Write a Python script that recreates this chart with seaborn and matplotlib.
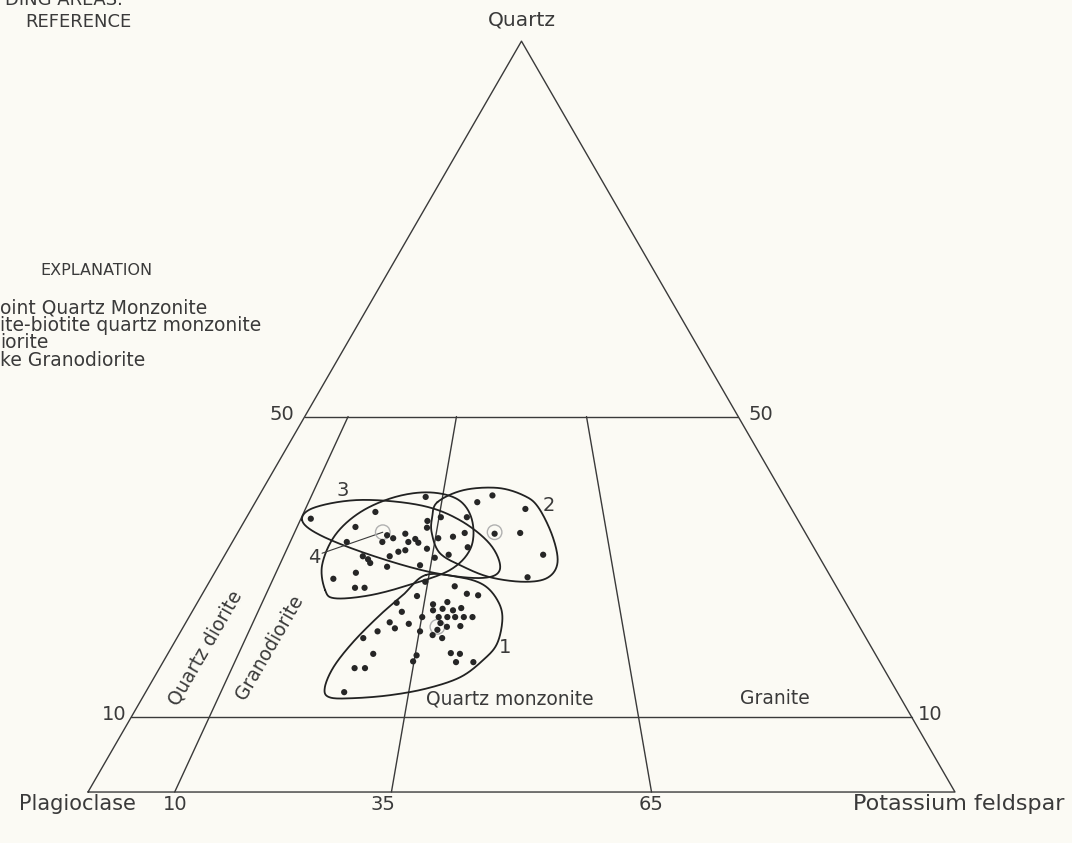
import numpy as np
import pandas as pd
import seaborn as sns
import matplotlib.pyplot as plt

# modal compositions (percent quartz, percent potassium feldspar)
dot_quartz = [39.3, 39.5, 38.6, 37.7, 36.4, 37.3, 36.1, 36.6, 36.6, 35.3, 35.2, 34.2, 33.8, 34.4,
              34.4, 34.5, 34.5, 33.3, 33.3, 33.3, 33.7, 33.2, 32.4, 33.8, 34.0, 32.6, 32.2, 32.0,
              31.4, 31.4, 31.0, 30.5, 30.0, 30.2, 31.2, 31.6, 31.6, 29.2, 28.4, 28.6, 27.2, 27.2,
              26.1, 27.4, 26.4, 26.2, 28.0, 25.2, 25.0, 25.3, 24.2, 24.4, 24.2, 24.5, 24.0, 23.3,
              23.3, 23.3, 23.3, 23.3, 23.3, 22.6, 22.4, 21.8, 22.5, 22.0, 22.1, 21.6, 20.9, 20.5,
              21.4, 21.4, 20.5, 18.4, 18.2, 17.4, 18.5, 18.4, 17.3, 17.3, 16.5, 16.5, 13.3]
dot_kspar = [19.3, 26.9, 25.6, 31.6, 7.5, 14.5, 21.1, 22.4, 25.4, 13.2, 21.5, 17.4, 18.3, 19.4,
             29.7, 32.6, 26.2, 13.2, 17.3, 20.3, 20.9, 21.5, 22.9, 23.5, 25.1, 27.5, 20.5, 19.8,
             19.1, 16.0, 16.8, 17.3, 19.5, 23.2, 24.4, 25.8, 36.7, 16.3, 14.1, 36.4, 17.2, 18.3,
             24.9, 28.6, 30.5, 31.9, 24.9, 23.0, 27.3, 28.8, 27.7, 28.7, 30.0, 30.8, 24.2, 28.8,
             29.8, 30.7, 31.7, 32.7, 26.9, 23.5, 25.8, 24.5, 29.4, 30.4, 31.9, 29.5, 29.3, 30.6,
             27.6, 22.7, 21.5, 23.7, 28.8, 28.8, 32.6, 33.7, 33.8, 35.8, 22.5, 23.7, 22.9]

# mean compositions of the rock units
mean_quartz = [22.0, 34.6, 34.6]
mean_kspar = [29.3, 29.6, 16.7]

# outlines of the four units
field1_quartz = [28.9, 28.6, 27.6, 25.6, 23.2, 19.8, 17.6, 15.3, 13.8, 12.9, 12.5, 12.6, 13.8, 16.6, 20.0, 23.6, 26.2]
field1_kspar = [24.5, 28.6, 31.8, 34.4, 36.2, 37.3, 36.8, 35.3, 32.2, 28.4, 24.4, 21.6, 20.4, 20.0, 20.6, 21.9, 23.2]
field2_quartz = [38.6, 40.2, 40.5, 39.5, 37.9, 34.0, 30.5, 28.5, 28.0, 28.6, 30.0, 31.8, 34.5, 36.6]
field2_kspar = [21.0, 23.2, 27.0, 30.5, 33.0, 36.6, 38.9, 38.7, 36.2, 32.1, 28.3, 24.7, 22.4, 21.4]
field3_quartz = [36.2, 37.9, 38.9, 38.2, 36.2, 32.9, 29.6, 28.5, 29.3, 31.6, 34.2]
field3_kspar = [6.6, 7.2, 12.0, 19.2, 24.8, 30.0, 32.7, 31.0, 24.8, 16.7, 9.7]
field4_quartz = [26.9, 30.2, 34.2, 37.3, 39.3, 39.9, 38.9, 36.2, 32.5, 29.6, 27.6, 26.2, 25.8]
field4_kspar = [13.9, 11.9, 11.4, 12.8, 15.8, 19.5, 23.3, 26.2, 27.9, 27.0, 23.3, 19.4, 15.6]

field_numbers = ["1", "2", "3", "4"]
number_quartz = [19.2, 38.2, 40.2, 31.3]
number_kspar = [38.5, 34.0, 9.3, 10.4]

ratio_lines = [10, 35, 65]  # K-feldspar / total feldspar, percent
quartz_lines = [10, 50]

explanation = ["oint Quartz Monzonite", "ite-biotite quartz monzonite", "iorite", "ke Granodiorite"]

INK = "#3a3a3a"
BG = "#fbfaf4"


def to_xy(q, k):
    q = np.asarray(q, dtype=float)
    k = np.asarray(k, dtype=float)
    return k + q / 2, q * np.sqrt(3) / 2


def smooth_closed(xs, ys, n=24):
    pts = np.column_stack([xs, ys])
    m = len(pts)
    t = np.linspace(0, 1, n, endpoint=False)[:, None]
    segs = []
    for i in range(m):
        p0, p1, p2, p3 = pts[i - 1], pts[i], pts[(i + 1) % m], pts[(i + 2) % m]
        segs.append(0.5 * (2 * p1 + (-p0 + p2) * t + (2 * p0 - 5 * p1 + 4 * p2 - p3) * t ** 2
                           + (-p0 + 3 * p1 - 3 * p2 + p3) * t ** 3))
    segs.append(segs[0][:1])
    return np.vstack(segs)


sns.set_style("white")
plt.rcParams["font.family"] = ["DejaVu Sans"]

fig = plt.figure(figsize=(10.72, 8.43), dpi=100, facecolor=BG)
ax = fig.add_axes([0, 0, 1, 1])
ax.set_facecolor(BG)
ax.set_xlim(-10.15, 113.5)
ax.set_ylim(-5.88, 91.35)
ax.axis("off")

# triangle frame
fx, fy = to_xy([0, 0, 100, 0], [0, 100, 0, 0])
ax.plot(fx, fy, color=INK, lw=1.0)
for q in quartz_lines:
    lx, ly = to_xy([q, q], [0, 100 - q])
    ax.plot(lx, ly, color=INK, lw=1.0)
for r in ratio_lines:
    lx, ly = to_xy([0, 50], [r, r * 0.5])
    ax.plot(lx, ly, color=INK, lw=1.0)

# unit outlines
for fq, fk in [(field1_quartz, field1_kspar), (field2_quartz, field2_kspar),
               (field3_quartz, field3_kspar), (field4_quartz, field4_kspar)]:
    ox, oy = to_xy(fq, fk)
    curve = smooth_closed(ox, oy)
    sns.lineplot(x=curve[:, 0], y=curve[:, 1], sort=False, estimator=None,
                 color="#222222", lw=1.3, ax=ax)

# samples
dx, dy = to_xy(dot_quartz, dot_kspar)
samples = pd.DataFrame({"x": dx, "y": dy})
sns.scatterplot(data=samples, x="x", y="y", s=20, color="#262626", edgecolor="none", ax=ax, zorder=4)
mx, my = to_xy(mean_quartz, mean_kspar)
ax.scatter(mx, my, s=110, facecolor="none", edgecolor="#b0b0b0", lw=1.0, zorder=3)

# field numbers and leader for 4
nx, ny = to_xy(number_quartz, number_kspar)
for lab, x, y in zip(field_numbers, nx, ny):
    ax.text(x, y, lab, ha="center", va="center", fontsize=14, color=INK)
lx, ly = to_xy([31.8, mean_quartz[2]], [11.1, mean_kspar[2]])
ax.plot(lx, ly, color=INK, lw=0.8)

# corner and tick labels
px, py = to_xy([100, 0, 0], [0, 0, 100])
ax.annotate("Quartz", (px[0], py[0]), xytext=(0, 21), textcoords="offset pixels",
            ha="center", va="center", fontsize=14.5, color=INK)
ax.annotate("Plagioclase", (px[1], py[1]), xytext=(-11, -12), textcoords="offset pixels",
            ha="center", va="center", fontsize=15, color=INK)
ax.annotate("Potassium feldspar", (px[2], py[2]), xytext=(4, -12), textcoords="offset pixels",
            ha="center", va="center", fontsize=16, color=INK)
for r, off in zip(ratio_lines, [0, -8, 0]):
    bx, by = to_xy(0, r)
    ax.annotate(str(r), (bx, by), xytext=(off, -12), textcoords="offset pixels",
                ha="center", va="center", fontsize=14, color=INK)
for q, lo, ro in zip(quartz_lines, [-17, -23], [19, 23]):
    lx, ly = to_xy([q, q], [0, 100 - q])
    ax.annotate(str(q), (lx[0], ly[0]), xytext=(lo, 2), textcoords="offset pixels",
                ha="center", va="center", fontsize=14, color=INK)
    ax.annotate(str(q), (lx[1], ly[1]), xytext=(ro, 2), textcoords="offset pixels",
                ha="center", va="center", fontsize=14, color=INK)

# rock names
for name, q, k, rot in [("Quartz monzonite", 12.4, 42.5, 0), ("Granite", 12.4, 73.0, 0),
                        ("Quartz diorite", 19.2, 3.9, 60), ("Granodiorite", 19.2, 11.4, 60)]:
    tx, ty = to_xy(q, k)
    ax.text(tx, ty, name, ha="center", va="center", rotation=rot, rotation_mode="anchor",
            fontsize=13.5, color=INK)

# header and explanation at the left margin
ax.text(0.005, 1.0, "DING AREAS.", transform=ax.transAxes, ha="left", va="center",
        fontsize=13, color=INK)
ax.text(0.073, 1 - 22 / 843, "REFERENCE", transform=ax.transAxes, ha="center", va="center",
        fontsize=13, color=INK)
ax.text(0.09, 1 - 270 / 843, "EXPLANATION", transform=ax.transAxes, ha="center", va="center",
        fontsize=11.5, color=INK)
for i, line in enumerate(explanation):
    ax.text(0.0, 1 - (308 + 17.5 * i) / 843, line, transform=ax.transAxes, ha="left",
            va="center", fontsize=13.5, color=INK)

fig.savefig("out.png", dpi=100, facecolor=BG)
